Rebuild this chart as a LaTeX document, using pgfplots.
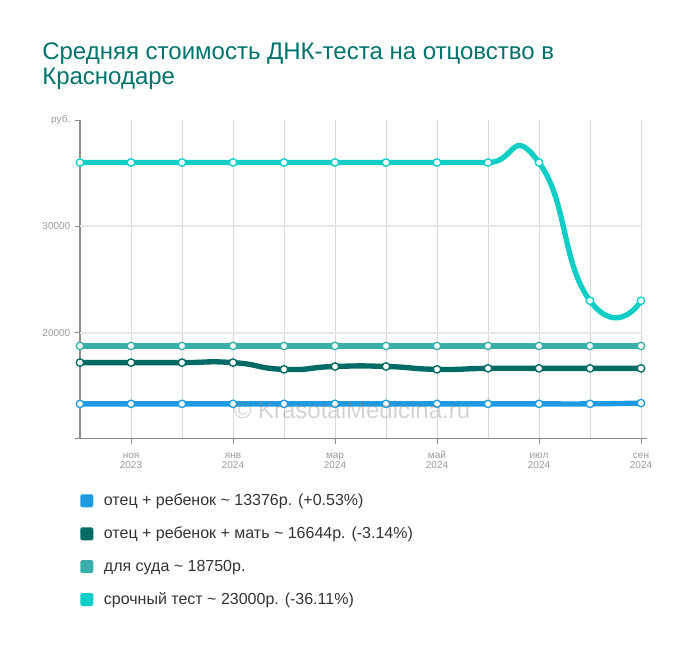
\documentclass[border=0pt]{standalone}
\usepackage{pgfplots}
\pgfplotsset{compat=1.18}
\usepackage{fontspec}
\setmainfont{Liberation Sans}
\definecolor{cblue}{HTML}{1E9BE0}
\definecolor{cdark}{HTML}{006B64}
\definecolor{cmid}{HTML}{3AAFA9}
\definecolor{ccyan}{HTML}{10CEC6}
\definecolor{titlecol}{HTML}{00736D}
\definecolor{axisgray}{HTML}{8C8C8C}
\definecolor{labelgray}{HTML}{9A9A9A}
\definecolor{vgrid}{HTML}{D9D9D9}
\definecolor{hgrid}{HTML}{E6E6E6}
\definecolor{legtext}{HTML}{333333}
\newcommand\xs{\rule{0pt}{7pt}}

\begin{document}
\begin{tikzpicture}
% canvas 700x650 px at 0.75pt per px
\path[use as bounding box] (0pt,0pt) rectangle (525pt,487.5pt);

\node[anchor=base west, inner sep=0pt, text=titlecol, font=\fontsize{18}{20}\selectfont]
  at (31.5pt,442.5pt) {Средняя стоимость ДНК-теста на отцовство в};
\node[anchor=base west, inner sep=0pt, text=titlecol, font=\fontsize{18}{20}\selectfont]
  at (31.5pt,423.75pt) {Краснодаре};

\begin{axis}[
  at={(60pt,158.25pt)}, anchor=south west,
  scale only axis, width=420.75pt, height=239.25pt,
  xmin=0, xmax=11, ymin=10000, ymax=40000,
  scaled y ticks=false,
  axis x line*=bottom, axis y line*=left,
  axis line style={draw=axisgray, line width=0.75pt, -},
  x axis line style={shorten <=-3.75pt, shorten >=-4.5pt},
  tick style={draw=axisgray, line width=0.75pt},
  tick align=outside, major tick length=3.75pt, minor tick length=0pt,
  xtick={1,3,5,7,9,11},
  xticklabels={\xs ноя\\2023, \xs янв\\2024, \xs мар\\2024, \xs май\\2024, \xs июл\\2024, \xs сен\\2024},
  xticklabel style={align=center, text=labelgray, font=\fontsize{7.5}{7.5}\selectfont, yshift=-0.5pt},
  minor xtick={0,2,4,6,8,10},
  xmajorgrids, xminorgrids,
  major grid style={draw=vgrid, line width=0.75pt},
  minor grid style={draw=vgrid, line width=0.75pt},
  ytick={10000,40000}, yticklabels={,руб.},
  extra y ticks={20000,30000}, extra y tick labels={20000,30000},
  extra y tick style={grid=major, major grid style={draw=hgrid, line width=1.5pt}},
  yticklabel style={text=labelgray, font=\fontsize{7.5}{8.5}\selectfont},
  clip=false,
  legend style={at={(0,-0.163)}, anchor=north west, draw=none, fill=none,
    inner sep=0pt, row sep=10.5pt, column sep=6pt, text=legtext,
    font=\fontsize{12}{14}\selectfont},
  legend cell align=left,
  legend image code/.code={\path[fill, draw=none, rounded corners=1.2pt] (0pt,-4.875pt) rectangle (9.75pt,4.875pt);},
  every axis plot/.append style={smooth, tension=1, line width=4pt, mark=*, mark size=2.8pt},
]
\addplot[color=cblue, mark options={fill=white, draw=cblue, line width=1pt}] coordinates {
  (0,13305)(1,13305)(2,13305)(3,13305)(4,13305)(5,13305)
  (6,13305)(7,13305)(8,13305)(9,13305)(10,13305)(11,13376)};
\addlegendentry{отец + ребенок \textasciitilde{} 13376р. (+0.53\%)}
\addplot[color=cdark, mark options={fill=white, draw=cdark, line width=1pt}] coordinates {
  (0,17184)(1,17184)(2,17184)(3,17184)(4,16550)(5,16820)
  (6,16820)(7,16550)(8,16644)(9,16644)(10,16644)(11,16644)};
\addlegendentry{отец + ребенок + мать \textasciitilde{} 16644р. (-3.14\%)}
\addplot[color=cmid, mark options={fill=white, draw=cmid, line width=1pt}] coordinates {
  (0,18750)(1,18750)(2,18750)(3,18750)(4,18750)(5,18750)
  (6,18750)(7,18750)(8,18750)(9,18750)(10,18750)(11,18750)};
\addlegendentry{для суда \textasciitilde{} 18750р.}
\addplot[color=ccyan, mark options={fill=white, draw=ccyan, line width=1pt}] coordinates {
  (0,36000)(1,36000)(2,36000)(3,36000)(4,36000)(5,36000)
  (6,36000)(7,36000)(8,36000)(9,36000)(10,23000)(11,23000)};
\addlegendentry{срочный тест \textasciitilde{} 23000р. (-36.11\%)}
\end{axis}

\node[text=gray, opacity=0.35, font=\fontsize{18}{20}\selectfont] at (264pt,180pt)
  {© KrasotaiMedicina.ru};
\end{tikzpicture}
\end{document}
